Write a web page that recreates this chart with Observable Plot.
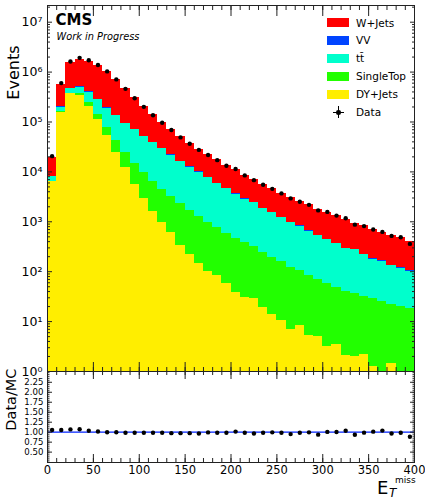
<!DOCTYPE html>
<html><head><meta charset="utf-8">
<script src="https://cdn.jsdelivr.net/npm/d3@7"></script>
<script src="https://cdn.jsdelivr.net/npm/@observablehq/plot@0.6"></script>
<style>
body{margin:0;background:#fff;font-family:"DejaVu Sans",sans-serif;}
#wrap{position:relative;width:425px;height:499px;overflow:hidden;background:#fff;}
#main,#ratio{position:absolute;left:0;}
#main{top:0;z-index:2;}
#ratio{top:371px;z-index:1;}
svg{overflow:visible;}
.lg{position:absolute;font-size:10.5px;line-height:12px;color:#000;z-index:3;}
.box{position:absolute;width:22px;height:9px;z-index:3;}
</style></head>
<body><div id="wrap"><div id="ratio"></div><div id="main"></div><div id="legend"></div><div id="xlab"></div></div>
<script>
// bin low edges (GeV), width 10
const binLow = [0,10,20,30,40,50,60,70,80,90,100,110,120,130,140,150,160,170,180,190,
                200,210,220,230,240,250,260,270,280,290,300,310,320,330,340,350,360,370,380,390];
const binWidth = 10;

const dyJets = [6310,158500,370000,342000,209000,111700,54200,24800,12020,5675,2938,1585,955,603,342,223,147,103,82,58.6,
                38.0,30.8,29.4,19.4,13.6,10.5,6.8,8.2,5.25,5.0,3.16,3.42,2.13,2.0,2.23,1.26,0.6,1.48,0.5,0.5];
const singleTop = [60,2000,8000,28000,35000,31000,23100,18250,12400,9050,6600,4725,3410,2620,2000,1490,1153,852,677,527,
                   428,349,297,220,180,148,113,96.5,80,66,55.7,45.6,38.6,35.2,30.1,28.2,25.1,20.9,19.5,17.7];
const ttbar = [1570,39000,88000,131000,154000,138000,113000,91250,68500,55750,41500,31700,24500,18360,13800,10700,8560,6630,5100,3985,
               3115,2464,2072,1614,1348,1066,835,715,567,454,386,321,253,235,190,150,136,110,97,84];
const vv = [100,3000,7000,7500,6000,4200,2900,2000,1400,1050,770,570,430,320,240,185,150,115,88,70,
            54,43,36,28,23,18,14,12,10,8,6.7,5.6,4.5,4.2,3.3,2.6,2.5,2,1.8,1.5];
const wJets = [11560,368000,1050000,1290000,1260000,1080000,842000,580000,372700,231500,152000,100000,68430,48900,34000,25080,18580,14300,11520,8860,
               7590,5746,4648,3744,3029,2525,2121,1739,1536,1270,1118,948,838,661,604,511,439,405,377,304];
const dataCounts = [20700,601500,1628000,1930000,1726000,1388000,1033000,714500,461000,299000,201200,136600,96300,69060,49120,36750,27590,21880,17210,13300,
                    11390,8500,6835,5540,4571,3710,2940,2530,2188,1690,1580,1330,1177,876,820,702,627,522,489,361];

const procNames = ["DY+Jets","SingleTop","tt\u0304","VV","W+Jets"];
const procColors = ["#ffee00","#22ff00","#00ffcc","#0044ff","#ff0000"];
const procValues = [dyJets, singleTop, ttbar, vv, wJets];

const decades = [1,10,100,1e3,1e4,1e5,1e6,1e7];
const supDigits = {"0":"\u2070","1":"\u00b9","2":"\u00b2","3":"\u00b3","4":"\u2074","5":"\u2075","6":"\u2076","7":"\u2077","8":"\u2078","9":"\u2079"};
const supFmt = d => "10" + String(Math.round(Math.log10(d))).split("").map(c => supDigits[c]).join("");
const minorLog = [];
decades.forEach(d => { for (let k = 2; k <= 9; k++) if (d*k < 2.1e7) minorLog.push(d*k); });
const xMajor = d3.range(0, 401, 50);
const xMinor = d3.range(0, 401, 10);
const ratioLabels = [0.5,0.75,1.0,1.25,1.5,1.75,2.0,2.25];
const ratioMinor = d3.range(0.25, 2.51, 0.05);

// stacked cumulative rectangles (drawn top layer first, each from the floor up)
const rects = [];
for (let p = procValues.length - 1; p >= 0; p--) {
  binLow.forEach((lo, i) => {
    let cum = 0;
    for (let q = 0; q <= p; q++) cum += procValues[q][i];
    rects.push({x1: lo, x2: lo + binWidth, y1: 0.1, y2: cum, fill: procColors[p]});
  });
}
const totals = binLow.map((lo, i) => procValues.reduce((s, v) => s + v[i], 0));
const points = binLow.map((lo, i) => ({x: lo + binWidth/2, y: dataCounts[i], r: dataCounts[i] / totals[i]}));

const tickCol = "#222";
const font = "DejaVu Sans";

const main = Plot.plot({
  width: 425, height: 372, marginLeft: 47, marginRight: 11, marginTop: 5, marginBottom: 1,
  x: {domain: [0, 400]},
  y: {type: "log", domain: [1, 2.16e7]},
  style: {fontFamily: font, fontSize: "12px", background: "transparent", color: "#000"},
  marks: [
    Plot.rect(rects, {x1: "x1", x2: "x2", y1: "y1", y2: "y2", fill: "fill", clip: true, shapeRendering: "crispEdges"}),
    Plot.dot(points, {x: "x", y: "y", r: 2.2, fill: "#000", stroke: null}),
    Plot.axisY({ticks: decades, tickSize: 0, tickPadding: 5, tickFormat: supFmt, fontSize: 12.5, label: null}),
    Plot.axisY({anchor: "left", ticks: decades, tickSize: 5, dx: 5, tickFormat: () => "", label: null, stroke: tickCol}),
    Plot.axisY({anchor: "left", ticks: minorLog, tickSize: 3, dx: 3, tickFormat: () => "", label: null, stroke: tickCol}),
    Plot.axisY({anchor: "right", ticks: decades, tickSize: 5, dx: -5, tickFormat: () => "", label: null, stroke: tickCol}),
    Plot.axisY({anchor: "right", ticks: minorLog, tickSize: 3, dx: -3, tickFormat: () => "", label: null, stroke: tickCol}),
    Plot.axisX({anchor: "bottom", ticks: xMajor, tickSize: 9, dy: -9, tickFormat: () => "", label: null, stroke: tickCol}),
    Plot.axisX({anchor: "bottom", ticks: xMinor, tickSize: 4, dy: -4, tickFormat: () => "", label: null, stroke: tickCol}),
    Plot.axisX({anchor: "top", ticks: xMajor, tickSize: 10, dy: 10, tickFormat: () => "", label: null, stroke: tickCol}),
    Plot.axisX({anchor: "top", ticks: xMinor, tickSize: 4, dy: 4, tickFormat: () => "", label: null, stroke: tickCol}),
    Plot.frame({stroke: tickCol}),
    Plot.text(["CMS"], {frameAnchor: "top-left", dx: 8, dy: 19, fontWeight: "bold", fontSize: 15, textAnchor: "start", lineAnchor: "bottom"}),
    Plot.text(["Work in Progress"], {frameAnchor: "top-left", dx: 9, dy: 34.5, fontStyle: "italic", fontSize: 9.8, textAnchor: "start", lineAnchor: "bottom"}),
    Plot.text(["(13 TeV)"], {frameAnchor: "top-right", dx: -4, dy: -6.5, fontSize: 11.5, textAnchor: "end", lineAnchor: "bottom"}),
    Plot.text(["Events"], {frameAnchor: "top-left", dx: -34, dy: 40, rotate: -90, fontSize: 16, textAnchor: "end", lineAnchor: "middle"})
  ]
});
document.getElementById("main").appendChild(main);

const ratio = Plot.plot({
  width: 425, height: 128, marginLeft: 47, marginRight: 11, marginTop: 0, marginBottom: 37,
  x: {domain: [0, 400]},
  y: {domain: [0.24, 2.52]},
  style: {fontFamily: font, fontSize: "11px", background: "transparent", color: "#000"},
  marks: [
    Plot.ruleY([1], {stroke: "#0022ff", strokeWidth: 1.4}),
    Plot.dot(points, {x: "x", y: "r", r: 2.2, fill: "#000", stroke: null}),
    Plot.axisY({ticks: ratioLabels, tickSize: 0, tickPadding: 4, tickFormat: d3.format(".2f"), fontSize: 8.6, label: null}),
    Plot.axisY({anchor: "left", ticks: ratioLabels, tickSize: 5, dx: 5, tickFormat: () => "", label: null, stroke: tickCol}),
    Plot.axisY({anchor: "left", ticks: ratioMinor, tickSize: 2.5, dx: 2.5, tickFormat: () => "", label: null, stroke: tickCol}),
    Plot.axisY({anchor: "right", ticks: ratioLabels, tickSize: 5, dx: -5, tickFormat: () => "", label: null, stroke: tickCol}),
    Plot.axisY({anchor: "right", ticks: ratioMinor, tickSize: 2.5, dx: -2.5, tickFormat: () => "", label: null, stroke: tickCol}),
    Plot.axisX({ticks: xMajor, tickSize: 0, tickPadding: 3, fontSize: 11.5, label: null}),
    Plot.axisX({anchor: "bottom", ticks: xMajor, tickSize: 8, dy: -8, tickFormat: () => "", label: null, stroke: tickCol}),
    Plot.axisX({anchor: "bottom", ticks: xMinor, tickSize: 4, dy: -4, tickFormat: () => "", label: null, stroke: tickCol}),
    Plot.axisX({anchor: "top", ticks: xMajor, tickSize: 7, dy: 7, tickFormat: () => "", label: null, stroke: tickCol}),
    Plot.axisX({anchor: "top", ticks: xMinor, tickSize: 3, dy: 3, tickFormat: () => "", label: null, stroke: tickCol}),
    Plot.frame({stroke: tickCol}),
    Plot.text(["Data/MC"], {frameAnchor: "top-left", dx: -36, dy: -3, rotate: -90, fontSize: 14.5, textAnchor: "end", lineAnchor: "middle"})
  ]
});
document.getElementById("ratio").appendChild(ratio);

// legend (HTML overlay)
const leg = document.getElementById("legend");
const order = [4,3,2,1,0];
order.forEach((p, k) => {
  const top = 18 + 17.9 * k;
  const b = document.createElement("div");
  b.className = "box"; b.style.left = "327px"; b.style.top = top + "px"; b.style.background = procColors[p];
  leg.appendChild(b);
  const t = document.createElement("div");
  t.className = "lg"; t.style.left = "356px"; t.style.top = (top - 1.5) + "px"; t.textContent = procNames[p];
  leg.appendChild(t);
});
{
  const top = 18 + 17.9 * 5;
  const v = document.createElement("div");
  v.style.cssText = `position:absolute;left:337.5px;top:${top-2}px;width:1.3px;height:12px;background:#000;z-index:3`;
  const h = document.createElement("div");
  h.style.cssText = `position:absolute;left:333px;top:${top+4}px;width:11px;height:1.3px;background:#000;z-index:3`;
  const d = document.createElement("div");
  d.style.cssText = `position:absolute;left:336px;top:${top+2.5}px;width:4.5px;height:4.5px;border-radius:50%;background:#000;z-index:3`;
  const t = document.createElement("div");
  t.className = "lg"; t.style.left = "356px"; t.style.top = (top - 1.5) + "px"; t.textContent = "Data";
  leg.append(v, h, d, t);
}
// x-axis title E_T^miss
document.getElementById("xlab").innerHTML =
  '<div style="position:absolute;left:377px;top:478px;font-size:18px;line-height:20px;z-index:3">E</div>' +
  '<div style="position:absolute;left:389px;top:487px;font-size:12px;line-height:12px;font-style:italic;z-index:3">T</div>' +
  '<div style="position:absolute;left:395px;top:476px;font-size:9px;line-height:9px;z-index:3">miss</div>';
</script>
</body></html>
